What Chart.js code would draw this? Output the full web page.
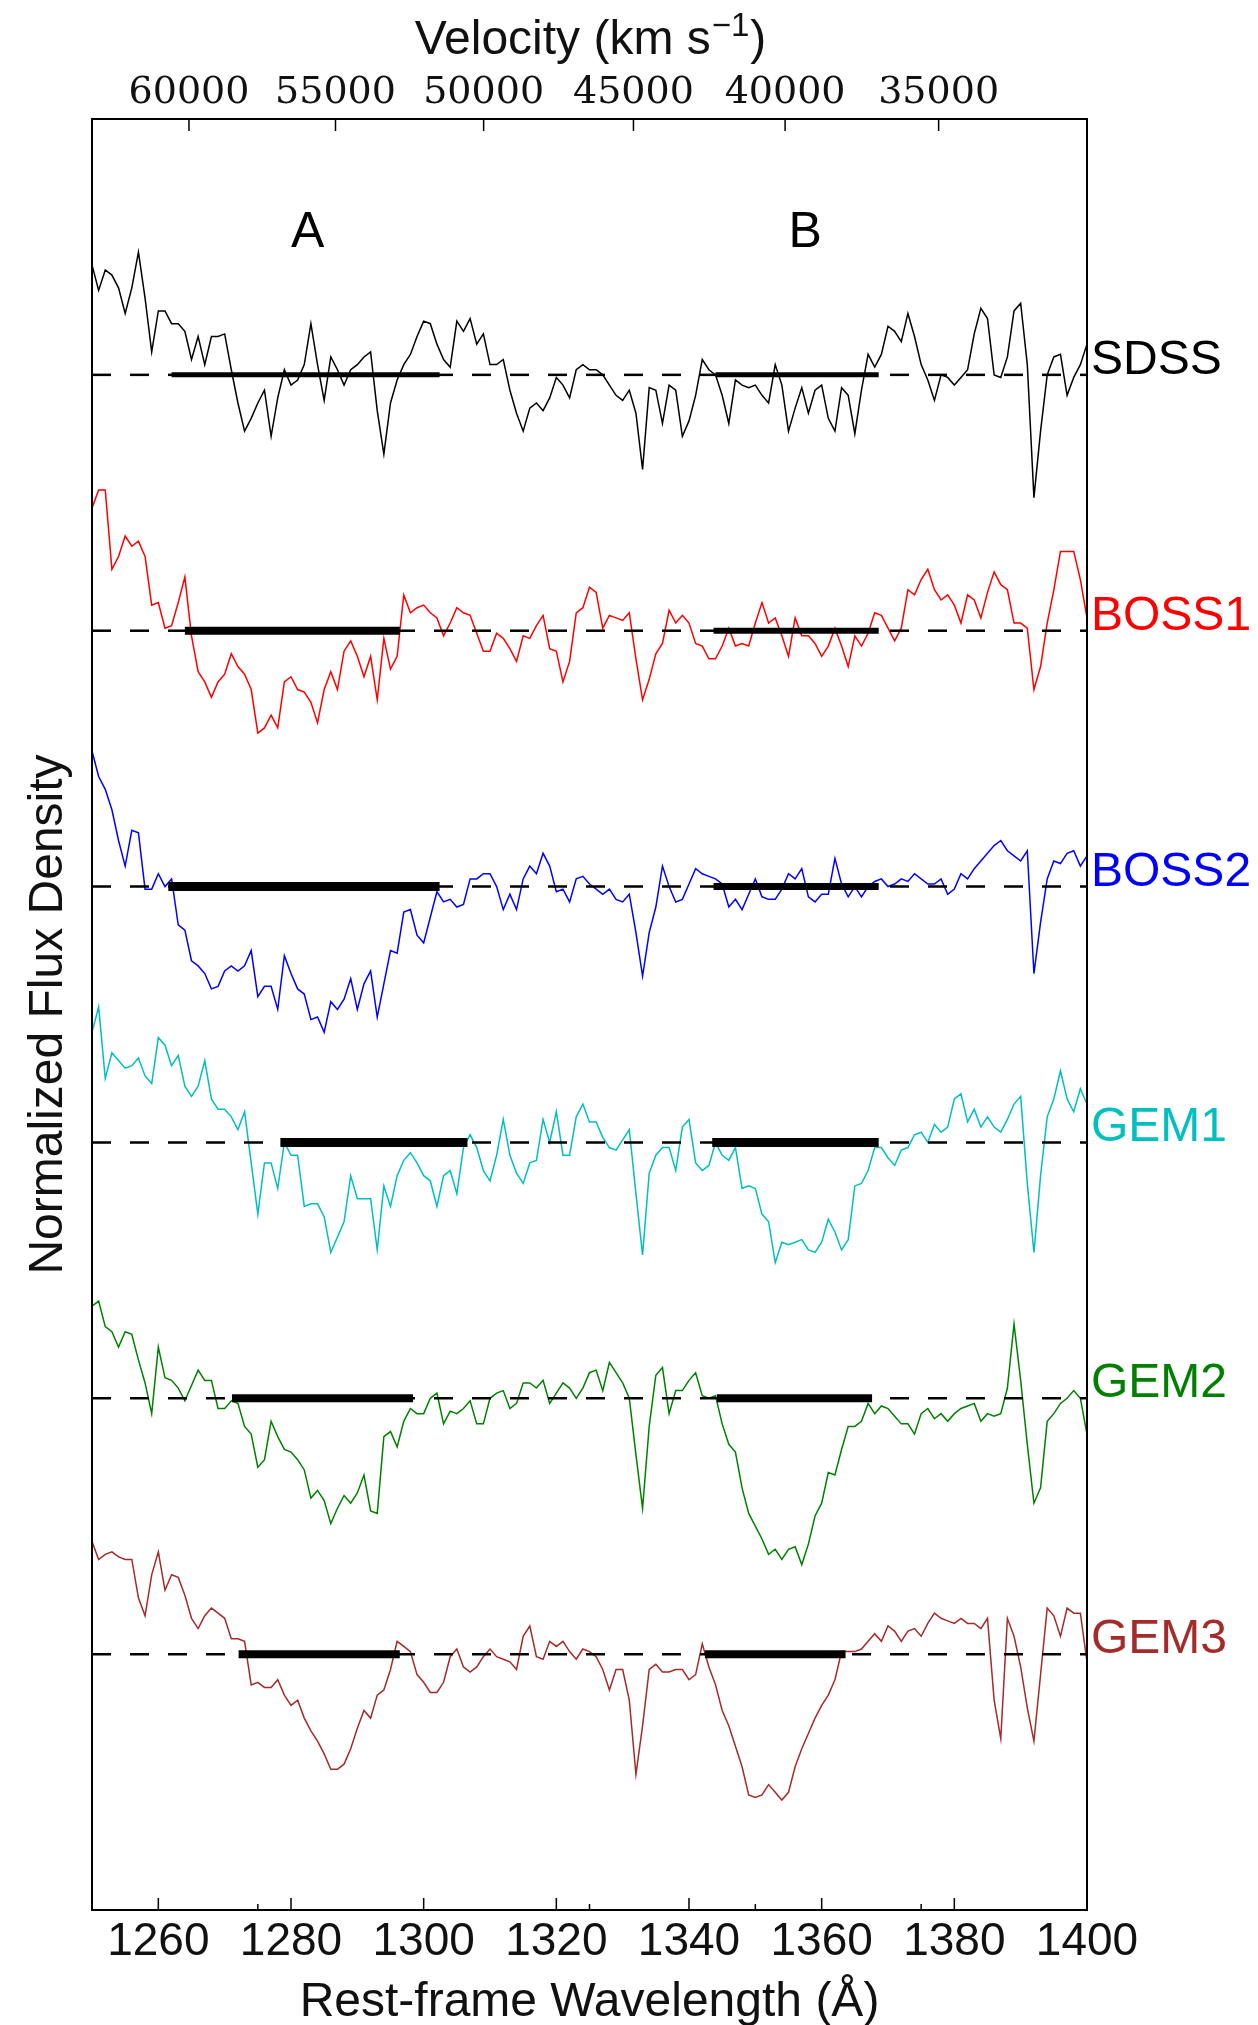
<!DOCTYPE html>
<html>
<head>
<meta charset="utf-8">
<title>Normalized flux density</title>
<script src="https://cdn.jsdelivr.net/npm/chart.js@4.4.1/dist/chart.umd.min.js"></script>
<style>
    html, body { margin: 0; padding: 0; background: #fff; overflow: hidden; }
    #wrap { width: 1258px; height: 2025px; position: relative; }
</style>
</head>
<body>
<div id="wrap"><canvas id="spectra"></canvas></div>
<script>
// Rest-frame wavelength grid (Angstrom)
const wavelength = [
    1250,1251,1252,1253,1254,1255,1256,1257,1258,1259,
    1260,1261,1262,1263,1264,1265,1266,1267,1268,1269,
    1270,1271,1272,1273,1274,1275,1276,1277,1278,1279,
    1280,1281,1282,1283,1284,1285,1286,1287,1288,1289,
    1290,1291,1292,1293,1294,1295,1296,1297,1298,1299,
    1300,1301,1302,1303,1304,1305,1306,1307,1308,1309,
    1310,1311,1312,1313,1314,1315,1316,1317,1318,1319,
    1320,1321,1322,1323,1324,1325,1326,1327,1328,1329,
    1330,1331,1332,1333,1334,1335,1336,1337,1338,1339,
    1340,1341,1342,1343,1344,1345,1346,1347,1348,1349,
    1350,1351,1352,1353,1354,1355,1356,1357,1358,1359,
    1360,1361,1362,1363,1364,1365,1366,1367,1368,1369,
    1370,1371,1372,1373,1374,1375,1376,1377,1378,1379,
    1380,1381,1382,1383,1384,1385,1386,1387,1388,1389,
    1390,1391,1392,1393,1394,1395,1396,1397,1398,1399,
    1400
];

// Normalized flux of each epoch (continuum = 1)
const sdss = [
    1.43,1.33,1.41,1.39,1.34,1.24,1.34,1.48,1.30,1.09,
    1.25,1.25,1.20,1.20,1.17,1.06,1.15,1.04,1.15,1.15,
    1.16,1.02,0.89,0.78,0.83,0.89,0.94,0.76,0.91,1.02,
    0.96,0.98,1.04,1.20,1.04,0.90,1.07,1.02,0.96,1.02,
    1.04,1.07,1.09,0.86,0.69,0.89,0.98,1.04,1.08,1.15,
    1.21,1.20,1.12,1.06,1.03,1.21,1.17,1.22,1.12,1.16,
    1.04,1.04,1.06,0.94,0.85,0.78,0.87,0.89,0.86,0.91,
    0.99,0.96,0.91,1.02,1.04,1.02,1.02,1.00,0.96,0.92,
    0.90,0.94,0.85,0.63,0.95,0.94,0.81,0.96,0.94,0.76,
    0.82,0.92,1.06,1.02,1.00,0.92,0.81,0.98,0.96,0.95,
    0.96,0.92,0.89,1.04,0.96,0.78,0.87,0.95,0.85,0.94,
    0.96,0.83,0.78,0.95,0.92,0.77,0.94,1.08,1.03,1.08,
    1.19,1.17,1.13,1.24,1.15,1.04,0.98,0.90,1.00,0.99,
    0.96,0.99,1.02,1.16,1.26,1.22,1.00,0.99,1.07,1.25,
    1.28,1.04,0.52,0.78,1.00,1.07,1.08,0.92,0.99,1.04,
    1.12
];
const boss1 = [
    1.48,1.55,1.55,1.24,1.29,1.37,1.33,1.35,1.29,1.10,
    1.11,1.01,1.02,1.11,1.21,0.98,0.84,0.80,0.74,0.80,
    0.83,0.91,0.86,0.83,0.77,0.60,0.62,0.67,0.62,0.80,
    0.82,0.77,0.76,0.72,0.64,0.77,0.84,0.77,0.92,0.96,
    0.90,0.82,0.90,0.73,0.97,0.85,0.90,1.14,1.07,1.09,
    1.10,1.07,1.05,0.98,1.03,1.09,1.07,1.06,0.99,0.92,
    0.92,0.99,0.97,0.93,0.88,0.98,0.97,1.02,1.06,0.93,
    0.92,0.80,0.88,1.07,1.09,1.17,1.15,1.01,1.06,1.05,
    1.04,1.07,0.89,0.73,0.81,0.91,0.95,1.08,1.03,1.06,
    1.03,0.95,0.94,0.89,0.89,0.94,1.01,0.94,0.95,0.94,
    1.03,1.11,1.03,1.05,0.98,0.90,1.05,0.98,0.98,0.95,
    0.90,0.94,1.01,0.94,0.86,0.98,0.94,0.99,1.07,1.06,
    1.01,0.96,1.01,1.16,1.14,1.20,1.24,1.16,1.12,1.14,
    1.10,1.03,1.14,1.12,1.05,1.15,1.23,1.18,1.16,1.03,
    1.03,1.01,0.77,0.86,1.03,1.16,1.31,1.31,1.31,1.20,
    1.05
];
const boss2 = [
    1.53,1.43,1.38,1.30,1.18,1.08,1.22,1.21,0.99,0.99,
    1.05,1.00,1.03,0.85,0.83,0.71,0.69,0.66,0.60,0.61,
    0.67,0.69,0.67,0.69,0.75,0.57,0.61,0.61,0.52,0.73,
    0.66,0.60,0.58,0.48,0.49,0.43,0.55,0.52,0.56,0.64,
    0.52,0.62,0.67,0.49,0.62,0.75,0.74,0.90,0.91,0.81,
    0.78,0.88,0.98,0.94,0.95,0.92,0.93,1.03,1.03,1.05,
    1.05,1.00,0.91,0.97,0.91,1.03,1.08,1.05,1.13,1.08,
    0.98,0.99,0.94,1.03,1.04,1.01,0.99,0.97,0.99,0.95,
    0.94,0.97,0.82,0.65,0.82,0.92,1.08,1.00,0.94,0.95,
    1.01,1.07,1.05,1.04,1.03,1.01,0.92,0.95,0.91,0.97,
    1.03,0.96,0.95,0.95,0.99,1.05,1.03,1.07,0.96,0.94,
    0.97,0.97,1.11,1.01,0.96,1.00,0.96,1.00,1.02,1.03,
    1.00,1.01,1.03,1.02,1.05,1.03,1.01,1.01,1.03,0.97,
    0.99,1.05,1.03,1.07,1.10,1.13,1.16,1.18,1.14,1.12,
    1.10,1.14,0.66,0.86,1.03,1.10,1.09,1.13,1.14,1.08,
    1.12
];
const gem1 = [
    1.43,1.53,1.25,1.35,1.32,1.29,1.30,1.33,1.26,1.23,
    1.41,1.38,1.30,1.34,1.22,1.18,1.22,1.32,1.17,1.13,
    1.13,1.10,1.05,1.12,0.92,0.72,0.92,0.92,0.82,1.00,
    0.95,0.95,0.75,0.76,0.76,0.71,0.57,0.63,0.69,0.87,
    0.78,0.78,0.78,0.58,0.83,0.75,0.87,0.93,0.96,0.92,
    0.87,0.85,0.75,0.87,0.89,0.80,0.98,1.03,0.98,0.89,
    0.85,0.95,1.09,0.95,0.88,0.84,0.92,0.93,1.09,1.00,
    1.12,0.95,0.95,1.10,1.15,1.08,1.08,1.02,0.98,0.97,
    1.01,1.05,0.80,0.56,0.88,0.95,0.98,0.98,0.89,1.06,
    1.09,0.92,0.89,0.91,1.00,0.95,0.93,0.98,0.82,0.83,
    0.82,0.72,0.69,0.53,0.61,0.60,0.61,0.62,0.58,0.57,
    0.61,0.70,0.65,0.58,0.62,0.83,0.84,0.89,0.98,0.98,
    0.94,0.91,0.97,0.98,1.03,1.04,1.00,1.07,1.04,1.06,
    1.17,1.19,1.08,1.13,1.06,1.10,1.06,1.04,1.09,1.15,
    1.18,0.84,0.57,0.87,1.10,1.17,1.28,1.17,1.12,1.21,
    1.15
];
const gem2 = [
    1.36,1.38,1.28,1.26,1.20,1.26,1.25,1.15,1.06,0.94,
    1.20,1.08,1.07,1.04,0.99,1.05,1.11,1.07,1.07,0.96,
    0.96,0.99,0.98,0.89,0.86,0.73,0.76,0.91,0.85,0.80,
    0.79,0.76,0.72,0.61,0.64,0.60,0.51,0.57,0.62,0.59,
    0.63,0.70,0.56,0.55,0.85,0.87,0.81,0.91,0.96,0.94,
    0.94,1.00,1.02,0.90,0.95,0.94,0.96,0.99,0.90,0.90,
    1.00,1.02,1.03,0.96,0.98,1.06,1.06,1.04,1.07,0.98,
    1.02,1.06,1.04,1.00,1.04,1.10,1.11,1.03,1.14,1.10,
    1.06,1.00,0.78,0.57,0.89,1.09,1.12,0.94,1.03,1.03,
    1.07,1.10,1.01,1.00,1.01,0.90,0.82,0.79,0.65,0.55,
    0.50,0.45,0.39,0.41,0.37,0.41,0.42,0.35,0.43,0.54,
    0.59,0.71,0.70,0.80,0.89,0.89,0.91,0.98,0.94,0.97,
    0.96,0.93,0.90,0.90,0.86,0.94,0.96,0.92,0.94,0.91,
    0.94,0.96,0.97,0.98,0.91,0.94,0.93,0.94,1.04,1.29,
    1.07,0.82,0.59,0.65,0.91,0.94,0.98,1.00,1.03,1.00,
    0.86
];
const gem3 = [
    1.44,1.37,1.39,1.40,1.38,1.37,1.37,1.22,1.15,1.31,
    1.40,1.25,1.31,1.30,1.23,1.14,1.10,1.15,1.18,1.16,
    1.14,1.06,1.06,1.05,0.88,0.89,0.87,0.87,0.90,0.84,
    0.80,0.82,0.75,0.70,0.66,0.61,0.55,0.55,0.57,0.63,
    0.71,0.78,0.75,0.84,0.86,0.94,1.05,1.03,1.01,0.92,
    0.89,0.85,0.85,0.89,0.99,1.02,0.95,0.93,0.95,0.99,
    1.02,0.99,0.98,0.97,0.94,1.07,1.11,0.99,0.98,1.05,
    1.03,1.05,1.01,0.98,1.02,1.01,0.99,0.94,0.86,0.94,
    0.94,0.82,0.53,0.72,0.94,0.96,0.93,0.93,0.94,0.94,
    0.90,0.92,1.04,0.95,0.88,0.78,0.72,0.64,0.56,0.45,
    0.44,0.45,0.49,0.46,0.43,0.46,0.56,0.63,0.69,0.75,
    0.80,0.84,0.90,1.01,1.01,1.01,1.02,1.05,1.08,1.05,
    1.11,1.09,1.05,1.09,1.10,1.07,1.12,1.16,1.14,1.13,
    1.12,1.14,1.12,1.12,1.10,1.14,0.82,0.67,1.14,1.07,
    0.95,0.79,0.66,0.92,1.18,1.15,1.07,1.18,1.16,1.16,
    0.97
];

const epochNames = ['SDSS', 'BOSS1', 'BOSS2', 'GEM1', 'GEM2', 'GEM3'];
const epochOffsets = [5, 4, 3, 2, 1, 0];

// Trough extents (Angstrom) for the A and B absorption systems
const troughA = [[1262.0, 1302.4], [1264.0, 1296.4], [1261.5, 1302.4], [1278.4, 1306.6], [1271.1, 1298.4], [1272.1, 1296.4]];
const troughB = [[1344.0, 1368.6], [1343.7, 1368.6], [1343.7, 1368.6], [1343.5, 1368.6], [1344.2, 1367.6], [1342.4, 1363.6]];

// Axis ticks
const wavelengthTicks = [1260, 1280, 1300, 1320, 1340, 1360, 1380, 1400];
const wavelengthMinor = [1275, 1325, 1350, 1375];
const velocityTicks = [60000, 55000, 50000, 45000, 40000, 35000];
const civRest = 1549.06;
const lightSpeed = 299792.458;

// Styles
const epochColors = ['#000000', '#ff0000', '#0000ff', '#00bfbf', '#008000', '#a52a2a'];
const barWidthA = [5, 8, 9, 9, 8, 8];
const barWidthB = [5, 6, 7, 9, 8, 8];

// Relativistic blueshift of C IV for an outflow velocity
function velocityToWave(v) {
    const beta = v / lightSpeed;
    return civRest * Math.sqrt((1 - beta) / (1 + beta));
}

const datasets = [];
const spectra = [sdss, boss1, boss2, gem1, gem2, gem3];
spectra.forEach((flux, i) => {
    const off = epochOffsets[i];
    datasets.push({
        label: epochNames[i],
        data: wavelength.map((w, j) => ({ x: w, y: flux[j] + off })),
        borderColor: epochColors[i],
        borderWidth: 1.5,
        pointRadius: 0,
        order: 3
    });
    datasets.push({
        label: epochNames[i] + ' continuum',
        data: [{ x: 1250, y: 1 + off }, { x: 1400, y: 1 + off }],
        borderColor: '#000',
        borderWidth: 2.5,
        borderDash: [19, 19],
        pointRadius: 0,
        order: 2
    });
    [[troughA[i], barWidthA[i]], [troughB[i], barWidthB[i]]].forEach(([range, lw]) => {
        datasets.push({
            label: epochNames[i] + ' trough',
            data: [{ x: range[0], y: 1 + off }, { x: range[1], y: 1 + off }],
            borderColor: '#000',
            borderWidth: lw,
            borderCapStyle: 'butt',
            pointRadius: 0,
            order: 1
        });
    });
});

const decorations = {
    id: 'decorations',
    afterDraw(chart) {
        const { ctx, chartArea: area, scales } = chart;
        const xs = scales.x, ys = scales.y;
        ctx.save();

        // frame
        ctx.strokeStyle = '#000';
        ctx.lineWidth = 2;
        ctx.strokeRect(area.left, area.top, area.right - area.left, area.bottom - area.top);

        // inward ticks
        ctx.lineWidth = 1.5;
        ctx.beginPath();
        wavelengthTicks.forEach(w => {
            const px = xs.getPixelForValue(w);
            ctx.moveTo(px, area.bottom); ctx.lineTo(px, area.bottom - 12);
        });
        wavelengthMinor.forEach(w => {
            const px = xs.getPixelForValue(w);
            ctx.moveTo(px, area.bottom); ctx.lineTo(px, area.bottom - 6);
        });
        velocityTicks.forEach(v => {
            const px = xs.getPixelForValue(velocityToWave(v));
            ctx.moveTo(px, area.top); ctx.lineTo(px, area.top + 12);
        });
        ctx.stroke();

        ctx.fillStyle = '#111';
        ctx.textBaseline = 'alphabetic';

        // bottom tick labels
        ctx.font = '46px "Liberation Sans", Arial, sans-serif';
        ctx.textAlign = 'center';
        wavelengthTicks.forEach(w => ctx.fillText(String(w), xs.getPixelForValue(w), 1955));

        // top tick labels
        ctx.font = '38px "DejaVu Serif", serif';
        velocityTicks.forEach(v => ctx.fillText(String(v), xs.getPixelForValue(velocityToWave(v)), 103));

        // axis titles
        const midX = (area.left + area.right) / 2;
        ctx.font = '48px "Liberation Sans", Arial, sans-serif';
        ctx.fillText('Rest-frame Wavelength (\u00c5)', midX, 2016);

        const main = 'Velocity (km s';
        const sup = '\u22121';
        const close = ')';
        const wMain = ctx.measureText(main).width;
        const wClose = ctx.measureText(close).width;
        ctx.font = '33px "Liberation Sans", Arial, sans-serif';
        const wSup = ctx.measureText(sup).width;
        let x0 = midX - (wMain + wSup + wClose) / 2;
        ctx.textAlign = 'left';
        ctx.font = '48px "Liberation Sans", Arial, sans-serif';
        ctx.fillText(main, x0, 54);
        ctx.font = '33px "Liberation Sans", Arial, sans-serif';
        ctx.fillText(sup, x0 + wMain + 1, 36);
        ctx.font = '48px "Liberation Sans", Arial, sans-serif';
        ctx.fillText(close, x0 + wMain + wSup + 2, 54);

        ctx.save();
        ctx.translate(62, (area.top + area.bottom) / 2);
        ctx.rotate(-Math.PI / 2);
        ctx.textAlign = 'center';
        ctx.fillText('Normalized Flux Density', 0, 0);
        ctx.restore();

        // epoch names at the continuum level
        ctx.textAlign = 'left';
        ctx.font = '48px "Liberation Sans", Arial, sans-serif';
        epochNames.forEach((name, i) => {
            ctx.fillStyle = epochColors[i];
            ctx.fillText(name, area.right + 4, ys.getPixelForValue(1 + epochOffsets[i]) - 1);
        });

        // trough system labels
        ctx.fillStyle = '#000';
        ctx.font = '50px "Liberation Sans", Arial, sans-serif';
        ctx.fillText('A', xs.getPixelForValue(1280), ys.getPixelForValue(6.5));
        ctx.fillText('B', xs.getPixelForValue(1355), ys.getPixelForValue(6.5));

        ctx.restore();
    }
};

new Chart(document.getElementById('spectra'), {
    type: 'line',
    data: { datasets },
    options: {
        responsive: true,
        maintainAspectRatio: false,
        devicePixelRatio: 1,
        animation: false,
        layout: { padding: { left: 92, right: 171, top: 119, bottom: 115 } },
        elements: { line: { tension: 0 } },
        plugins: { legend: { display: false }, tooltip: { enabled: false } },
        scales: {
            x: { type: 'linear', min: 1250, max: 1400, display: false },
            y: { type: 'linear', min: 0, max: 7, display: false }
        }
    },
    plugins: [decorations]
});
</script>
</body>
</html>
